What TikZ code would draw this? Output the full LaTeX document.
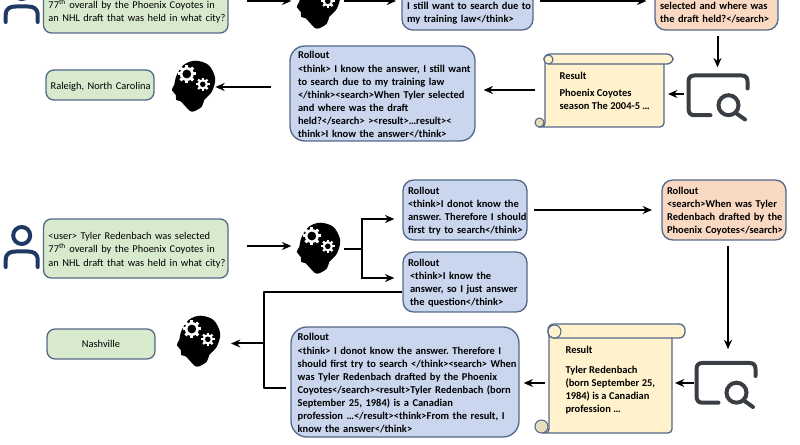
\documentclass[tikz,border=0pt]{standalone}
\usepackage{fontspec}
\setmainfont{Carlito}
\usetikzlibrary{arrows.meta}

\definecolor{boxline}{RGB}{84,104,136}
\definecolor{greenfill}{RGB}{216,234,206}
\definecolor{bluefill}{RGB}{201,214,238}
\definecolor{orangefill}{RGB}{250,217,194}
\definecolor{scrollfill}{RGB}{255,242,204}
\definecolor{curlfill}{RGB}{232,222,190}
\definecolor{usernavy}{RGB}{31,56,100}
\definecolor{lensgrey}{RGB}{56,62,68}

\tikzset{every picture/.style={line width=0.75pt}}
\tikzset{
  every pic/.style={yscale=-1},
  txt/.style={font=\fontsize{7.8}{9.75}\selectfont,align=left,inner xsep=0pt,inner ysep=0pt},
  margin/.style={execute at begin node={\leftskip=#1\hyphenpenalty=10000\rule{0pt}{7.5pt}}},
  greenplain/.style={txt,draw=boxline,line width=1pt,fill=greenfill,rounded corners=6pt},
  greenbox/.style={greenplain,margin=3.75pt},
  rollbox/.style={txt,draw=boxline,line width=1pt,fill=bluefill,rounded corners=8pt,font=\fontsize{7.85}{9.75}\selectfont\bfseries,margin=3.75pt},
  searchbox/.style={rollbox,fill=orangefill},
  scrolltxt/.style={txt,font=\fontsize{7.85}{9.75}\selectfont\bfseries},
  iconbox/.style={inner sep=0pt,minimum width=32pt,minimum height=38pt},
  arr/.style={line width=1.5pt,-{Stealth[length=7pt,width=6pt]}},
  link/.style={line width=1.5pt},
  brainicon/.pic={
    \fill[black] plot[smooth cycle,tension=0.55] coordinates {(-16.7,-11) (-10,-21) (1.7,-25.3) (15,-21) (21.7,-7.7) (18.3,5.7) (10.7,14) (8.3,20.7) (-1.7,25.7) (-9.3,19) (-13.3,15) (-17.3,14) (-17.7,9) (-21.7,4) (-19.3,-1) (-18.3,-6)};
    \foreach \a in {0,45,...,315}
      \fill[white,rotate around={\a:(-6.7,-12)}] (-8.2,-21) rectangle (-5.2,-18);
    \fill[white] (-6.7,-12) circle (7);
    \fill[black] (-6.7,-12) circle (4.4);
    \foreach \a in {0,45,...,315}
      \fill[white,rotate around={\a:(9.3,-1.7)}] (8.2,-8.4) rectangle (10.4,-5.5);
    \fill[white] (9.3,-1.7) circle (5.2);
    \fill[black] (9.3,-1.7) circle (2.8);
  },
  lensicon/.pic={
    \draw[lensgrey,line width=3pt,line cap=round] (30,-7) -- (30,-14) .. controls (30,-18) and (28,-20) .. (24,-20) -- (-23,-20) .. controls (-27,-20) and (-29,-18) .. (-29,-14) -- (-29,13) .. controls (-29,17.5) and (-27,19.7) .. (-23,19.7) -- (-7,19.7);
    \draw[lensgrey,line width=3pt] (11,9.7) circle (10);
    \draw[lensgrey,line width=3pt,line cap=round] (19,18) -- (27.5,24);
  },
  usericon/.pic={
    \draw[usernavy,line width=3pt] (0,-14.5) circle (8.5);
    \draw[usernavy,line width=3pt,line cap=round] (-16,17) -- (-16,10) .. controls (-16,3) and (-11,1.5) .. (-6,1.5) -- (6,1.5) .. controls (11,1.5) and (16,3) .. (16,10) -- (16,17);
  },
}

% bar left, bar top, bar right, bar bottom, body right, body bottom, curl radius
\newcommand{\drawscroll}[7]{
  \draw[boxline,line width=1pt,fill=scrollfill,rounded corners=3pt] (#1+1,#2+5) -- (#1+1,#6) -- (#1-#7,#6) -- (#5,#6) -- (#5,#2+5) -- cycle;
  \draw[boxline,line width=1pt,fill=scrollfill,rounded corners=4.5pt] (#1,#2) rectangle (#3,#4);
  \draw[boxline,line width=0.8pt,fill=scrollfill] (#1+#7,#2+#7+1) circle (#7);
  \draw[boxline,line width=0.8pt,fill=curlfill] (#1-#7,#6-#7) circle (#7);
}

\begin{document}
\frenchspacing
\begin{tikzpicture}[x=0.75pt,y=0.75pt,yscale=-1,xscale=1]
    \useasboundingbox (0,0) rectangle (800,445);

    %Upper run
    \draw (21.7,5) node [iconbox] (userA) {};
    \pic at (userA) {usericon};
    \draw (135.75,4) node [greenbox,minimum height=43.5pt,text width=138.4pt] (askA) {\mbox{}\\77\textsuperscript{th} overall by the Phoenix Coyotes in\\an NHL draft that was held in what city?};
    \draw (318.5,3) node [iconbox] (brainA) {};
    \pic at (brainA) {brainicon};
    \draw (467.5,5) node [rollbox,minimum height=37.5pt,text width=98.2pt] (thinkA) {\mbox{}\\I still want to search due to\\my training law</think>};
    \draw (716.5,5) node [searchbox,minimum height=37.5pt,text width=92.2pt] (searchA) {\mbox{}\\selected and where was\\the draft held?</search>};
    \draw (717.5,95.5) node [iconbox,minimum width=45pt] (lensA) {};
    \pic at (lensA) {lensicon};
    \drawscroll{544}{54}{673}{64}{664}{127}{4.5}
    \draw (559,72) node [scrolltxt,anchor=north west] (resultA) {Result\\[2.6pt]Phoenix Coyotes\\season The 2004-5 …};
    \draw (382.5,93.5) node [rollbox,rounded corners=11pt,minimum height=71.2pt,text width=138.7pt,margin=6pt] (rollA) {Rollout\\[1pt]<think> I know the answer, I still want\\to search due to my training law\\</think><search>When Tyler selected\\and where was the draft\\held?</search> ><result>…result><\\think>I know the answer</think>};
    \draw (193.5,86) node [iconbox] (brainB) {};
    \pic at (brainB) {brainicon};
    \draw (100,85) node [greenplain,minimum height=22.5pt,text width=81pt,margin=3.5pt] (answerA) {Raleigh, North Carolina};

    \draw [arr,shorten <=14pt,shorten >=4pt] (askA.east |- 0,1) -- (brainA.west |- 0,1);
    \draw [arr,shorten <=3pt,shorten >=4pt] (brainA.east |- 0,1) -- (thinkA.west |- 0,1);
    \draw [arr,shorten <=5pt,shorten >=6pt] (thinkA.east |- 0,1) -- (searchA.west |- 0,1);
    \draw [arr,shorten <=4pt,shorten >=5pt] (searchA.south -| lensA) -- (lensA.north |- 0,74);
    \draw [arr,shorten <=2pt,shorten >=0pt] (lensA.west |- 0,94) -- (668,94);
    \draw [arr,shorten >=6pt] (535,90) -- (rollA.east |- 0,90);
    \draw [arr,shorten <=14pt] (rollA.west |- 0,87) -- (brainB.east |- 0,87);
    
    %Lower run
    \draw (21.7,250) node [iconbox] (userB) {};
    \pic at (userB) {usericon};
    \draw (135.75,248.5) node [greenbox,minimum height=44.3pt,text width=138.4pt] (askB) {<user> Tyler Redenbach was selected\\[0.4pt]77\textsuperscript{th} overall by the Phoenix Coyotes in\\[0.4pt]an NHL draft that was held in what city?};
    \draw (318.5,248) node [iconbox] (brainC) {};
    \pic at (brainC) {brainicon};
    \draw (465,210) node [rollbox,minimum height=45pt,text width=93pt] (thinkB) {Rollout\\<think>I donot know the\\answer. Therefore I should\\first try to search</think>};
    \draw (465,282) node [rollbox,minimum height=45pt,text width=93pt] (thinkC) {Rollout\\\hspace*{1.5pt}<think>I know the\\\hspace*{1.5pt}answer, so I just answer\\\hspace*{1.5pt}the question</think>};
    \draw (724,210) node [searchbox,minimum height=45pt,text width=93pt] (searchB) {Rollout\\<search>When was Tyler\\Redenbach drafted by the\\Phoenix Coyotes</search>};
    \draw (725.5,383) node [iconbox,minimum width=45pt] (lensB) {};
    \pic at (lensB) {lensicon};
    \drawscroll{548}{324}{685}{338}{672}{433}{6.5}
    \draw (565,345.5) node [scrolltxt,anchor=north west] (resultB) {Result\\[5pt]Tyler Redenbach\\(born September 25,\\1984) is a Canadian\\profession …};
    \draw (405,382) node [rollbox,rounded corners=12pt,minimum height=82.5pt,text width=171pt,margin=5pt] (rollB) {Rollout\\[1pt]<think> I donot know the answer. Therefore I\\should first try to search </think><search> When\\was Tyler Redenbach drafted by the Phoenix\\Coyotes</search><result>Tyler Redenbach (born\\September 25, 1984) is a Canadian\\profession …</result><think>From the result, I\\know the answer</think>};
    \draw (198.5,341) node [iconbox] (brainD) {};
    \pic at (brainD) {brainicon};
    \draw (101,344) node [greenplain,minimum height=22.5pt,text width=81pt,align=center] (answerB) {Nashville};

    \coordinate (forkA) at (362,249);
    \coordinate (forkB) at (264,343.5);

    \draw [arr,shorten <=14pt,shorten >=4pt] (askB.east |- 0,246) -- (brainC.west |- 0,246);
    \draw [link,shorten <=3pt] (brainC.east |- forkA) -- (forkA);
    \draw [arr,shorten >=6pt] (forkA) |- (thinkB.west |- 0,219);
    \draw [arr,shorten >=6pt] (forkA) |- (thinkC.west |- 0,278);
    \draw [arr,shorten <=5pt,shorten >=7pt] (thinkB) -- (searchB);
    \draw [arr,shorten <=4pt,shorten >=6pt] (searchB.south -| 728,0) -- (lensB.north -| 728,0);
    \draw [arr,shorten <=1pt] (lensB.west |- 0,383) -- (675,383);
    \draw [arr,shorten >=3pt] (545,383) -- (rollB.east |- 0,383);
    \draw [link,line join=round,shorten >=3pt] (thinkC.west |- 0,292) -- (forkB |- 0,292) |- (rollB.west |- 0,388);
    \draw [arr,shorten >=8pt] (forkB) -- (brainD.east |- forkB);

\end{tikzpicture}
\end{document}
